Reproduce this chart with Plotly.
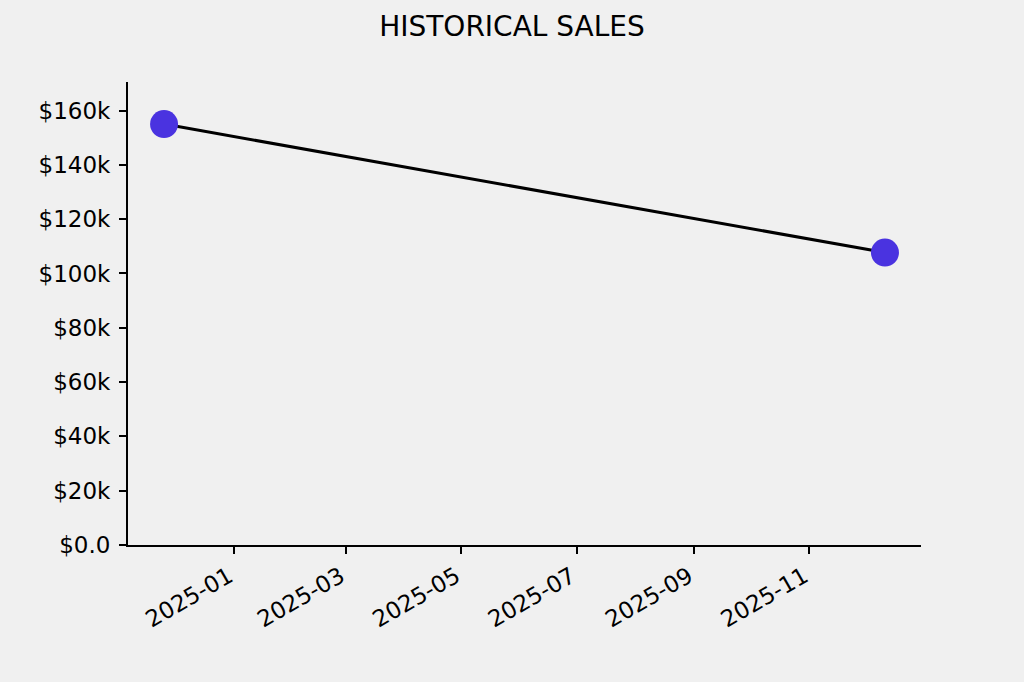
import plotly.graph_objects as go
import pandas as pd

dates = ["2024-11-25", "2025-12-11"]
sales = [155000, 107700]
x_tick_vals = ["2025-01-01", "2025-03-01", "2025-05-01", "2025-07-01", "2025-09-01", "2025-11-01"]
x_tick_text = ["2025-01", "2025-03", "2025-05", "2025-07", "2025-09", "2025-11"]
y_tick_vals = [0, 20000, 40000, 60000, 80000, 100000, 120000, 140000, 160000]
y_tick_text = ["$0.0", "$20k", "$40k", "$60k", "$80k", "$100k", "$120k", "$140k", "$160k"]

d = pd.to_datetime(dates)
span = d.max() - d.min()
x_range = [d.min() - span * 0.05, d.max() + span * 0.05]
y_range = [0, max(sales) * 1.1]

font = "DejaVu Sans"
fig = go.Figure()
fig.add_trace(go.Scatter(
    x=d, y=sales, mode="lines",
    line=dict(color="black", width=3), showlegend=False, hoverinfo="skip"))
fig.add_trace(go.Scatter(
    x=d, y=sales, mode="markers",
    marker=dict(color="#4a33e0", size=28, line=dict(width=0)), showlegend=False))

fig.update_layout(
    width=1024, height=682,
    paper_bgcolor="#f0f0f0", plot_bgcolor="#f0f0f0",
    margin=dict(l=128, r=103, t=82, b=137),
    title=dict(text="HISTORICAL SALES", x=0.5, xref="container", xanchor="center",
               y=1 - 26 / 682, yref="container", yanchor="middle",
               font=dict(family=font, size=28, color="black")),
    font=dict(family=font, size=23, color="black"),
)
fig.update_xaxes(
    range=x_range, tickvals=x_tick_vals, ticktext=x_tick_text, tickangle=-30,
    showgrid=False, zeroline=False, showline=True, linecolor="black", linewidth=2,
    ticks="outside", ticklen=7, tickwidth=2, tickcolor="black",
    ticklabelstandoff=0, ticklabelshift=-5,
    tickfont=dict(family=font, size=23, color="black"))
fig.update_yaxes(
    range=y_range, tickvals=y_tick_vals, ticktext=y_tick_text,
    showgrid=False, zeroline=False, showline=True, linecolor="black", linewidth=2,
    ticks="outside", ticklen=7, tickwidth=2, tickcolor="black", ticklabelstandoff=4,
    tickfont=dict(family=font, size=23, color="black"))

fig.write_html("out.html", config={"displayModeBar": False})

with open("out.html", encoding="utf-8") as f:
    html = f.read()
html = html.replace("<body>", '<body style="margin:0;background:#f0f0f0">', 1)
with open("out.html", "w", encoding="utf-8") as f:
    f.write(html)
